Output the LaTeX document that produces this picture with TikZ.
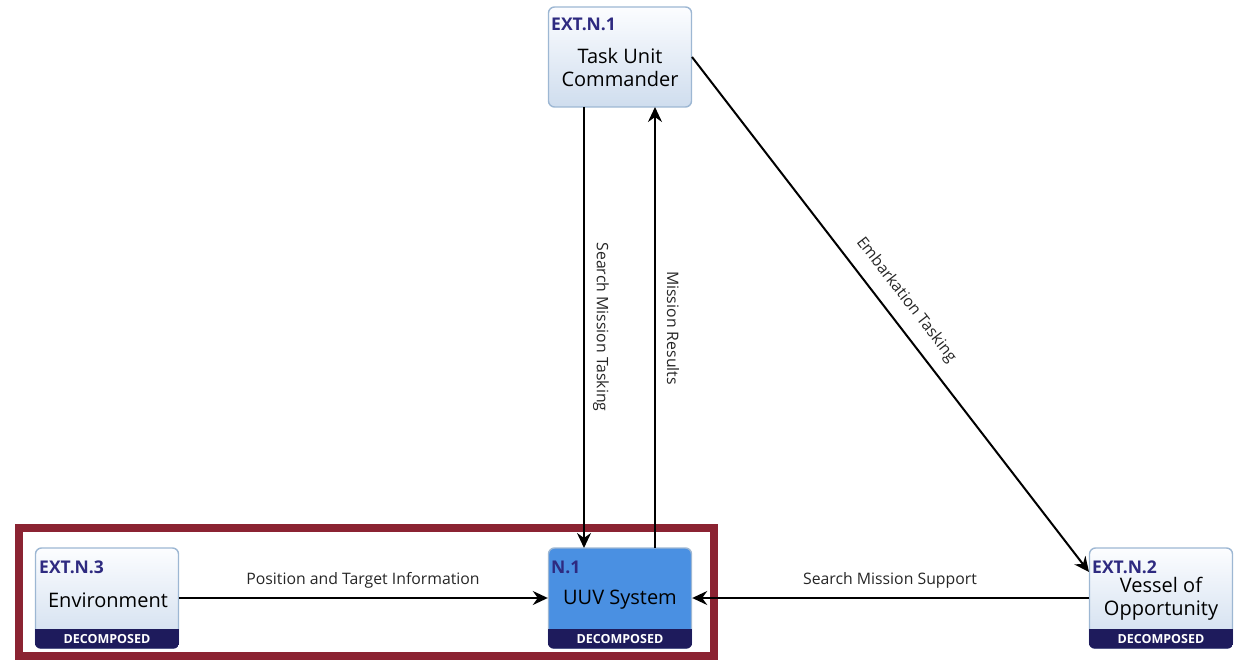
\documentclass[tikz,border=0pt]{standalone}
\usepackage{fontspec}
\setmainfont{Open Sans}
\usetikzlibrary{arrows.meta,calc}
\definecolor{idblue}{HTML}{2E2A80}
\definecolor{bandnavy}{HTML}{1E1B5C}
\definecolor{boxedge}{HTML}{9DB7D3}
\definecolor{boxtop}{HTML}{FCFDFF}
\definecolor{boxbot}{HTML}{CFDDEE}
\definecolor{sysblue}{HTML}{4A90E2}
\definecolor{framered}{HTML}{8B2332}
\tikzset{
  extbox/.style={draw=boxedge, line width=1.4pt, rounded corners=6pt, top color=boxtop, bottom color=boxbot, minimum width=143pt, minimum height=100pt, inner sep=0pt},
  sysbox/.style={draw=boxedge, line width=1.4pt, rounded corners=6pt, fill=sysblue, minimum width=143pt, minimum height=100pt, inner sep=0pt},
  idtext/.style={font=\fontsize{17.5}{20}\selectfont\bfseries, text=idblue, anchor=base west, inner sep=0pt},
  maintext/.style={font=\fontsize{20}{23}\selectfont, align=center, inner sep=0pt},
  bandtext/.style={font=\fontsize{12.5}{14}\selectfont\bfseries, text=white, inner sep=0pt},
  flowlabel/.style={font=\fontsize{15.8}{18}\selectfont, text=black!85, inner sep=0pt},
  flow/.style={-{Stealth[length=15pt,width=14pt,inset=5pt]}, line width=2pt, black}
}
\newcommand\mkband[1]{%
  \begin{scope}
    \clip[rounded corners=6pt] (#1.south west) rectangle (#1.north east);
    \fill[bandnavy] ($(#1.south west)+(0,-20)$) rectangle (#1.south east);
  \end{scope}
  \node[bandtext] (#1band) at ($(#1.south)+(0,-10)$) {DECOMPOSED};
}
\begin{document}
\begin{tikzpicture}[x=1pt,y=-1pt]
\useasboundingbox (0,0) rectangle (1235,660);
% boxes
\node[extbox] (tuc) at (620,57) {};
\node[idtext] (tucid) at (551,31) {EXT.N.1};
\node[maintext] (tuctext) at (620,68) {Task Unit\\Commander};

\node[sysbox] (uuv) at (620,598) {};
\mkband{uuv}
\node[idtext] (uuvid) at (551,573) {N.1};
\node[maintext] (uuvtext) at (620,600) {UUV System};

\node[extbox] (vos) at (1161,598) {};
\mkband{vos}
\node[idtext] (vosid) at (1092,573) {EXT.N.2};
\node[maintext] (vostext) at (1161,599) {Vessel of\\Opportunity};

\node[extbox] (env) at (107,598) {};
\mkband{env}
\node[idtext] (envid) at (39,573) {EXT.N.3};
\node[maintext] (envtext) at (108,600) {Environment};

% frame
\draw[framered, line width=7.5pt] (19,528) rectangle (714,656);

% connectors
\coordinate (tucS1) at (584,107);
\coordinate (uuvN1) at (584,548);
\coordinate (tucS2) at (655,107);
\coordinate (uuvN2) at (655,548);
\draw[flow] (tucS1) -- (uuvN1);
\draw[flow] (uuvN2) -- (tucS2);
\node[flowlabel, rotate=-90] (l1) at (601,327) {Search Mission Tasking};
\node[flowlabel, rotate=-90] (l2) at (673,328) {Mission Results};

\coordinate (tucE) at (692,57);
\coordinate (vosNW) at (1089,572);
\draw[flow] (tucE) -- (vosNW);
\node[flowlabel, rotate=-52.3] (l3) at (906,300) {Embarkation Tasking};

\draw[flow] (vos.west) -- (uuv.east);
\node[flowlabel] (l4) at (890,580) {Search Mission Support};

\draw[flow] (env.east) -- (uuv.west);
\node[flowlabel] (l5) at (363,580) {Position and Target Information};
\end{tikzpicture}
\end{document}
